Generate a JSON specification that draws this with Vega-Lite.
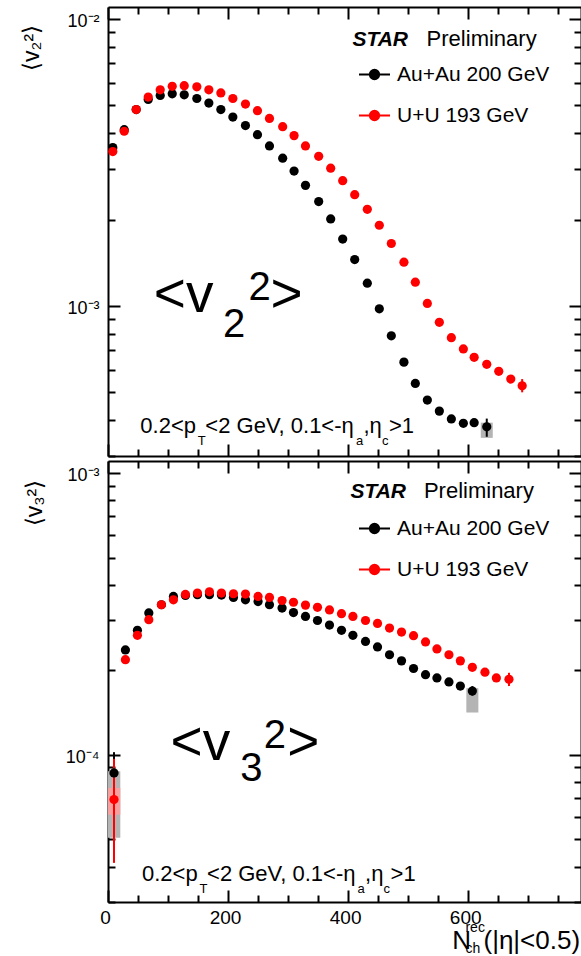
{
  "$schema": "https://vega.github.io/schema/vega-lite/v6.json",
  "background": "white",
  "padding": {"left": 20, "top": 6, "right": 0, "bottom": 0},
  "bounds": "flush",
  "spacing": 5,
  "config": {
    "font": "Liberation Sans",
    "view": {"stroke": null},
    "axis": {"domainColor": "black", "domainWidth": 2, "tickColor": "black", "tickWidth": 2, "grid": false, "labelColor": "black", "titleColor": "black", "labelFont": "Liberation Sans", "titleFont": "Liberation Sans", "titleFontWeight": "normal"},
    "legend": {"labelFont": "Liberation Sans", "labelColor": "black"}
  },
  "resolve": {"scale": {"x": "independent", "y": "independent"}, "legend": {"color": "independent"}},
  "datasets": {
    "pts": [
      {"panel":"v2","sys":"Au+Au 200 GeV","x":8,"y":0.00356},{"panel":"v2","sys":"Au+Au 200 GeV","x":27,"y":0.00411},{"panel":"v2","sys":"Au+Au 200 GeV","x":47,"y":0.00483},{"panel":"v2","sys":"Au+Au 200 GeV","x":67,"y":0.00524},{"panel":"v2","sys":"Au+Au 200 GeV","x":87,"y":0.00541},{"panel":"v2","sys":"Au+Au 200 GeV","x":107,"y":0.00548},{"panel":"v2","sys":"Au+Au 200 GeV","x":127,"y":0.00544},{"panel":"v2","sys":"Au+Au 200 GeV","x":148,"y":0.00528},{"panel":"v2","sys":"Au+Au 200 GeV","x":168,"y":0.00509},{"panel":"v2","sys":"Au+Au 200 GeV","x":188,"y":0.00483},{"panel":"v2","sys":"Au+Au 200 GeV","x":208,"y":0.00455},{"panel":"v2","sys":"Au+Au 200 GeV","x":229,"y":0.00425},{"panel":"v2","sys":"Au+Au 200 GeV","x":249,"y":0.00395},{"panel":"v2","sys":"Au+Au 200 GeV","x":269,"y":0.00361},{"panel":"v2","sys":"Au+Au 200 GeV","x":291,"y":0.00327},{"panel":"v2","sys":"Au+Au 200 GeV","x":310,"y":0.00295},{"panel":"v2","sys":"Au+Au 200 GeV","x":329,"y":0.00263},{"panel":"v2","sys":"Au+Au 200 GeV","x":351,"y":0.00231},{"panel":"v2","sys":"Au+Au 200 GeV","x":371,"y":0.00201},{"panel":"v2","sys":"Au+Au 200 GeV","x":391,"y":0.00171},{"panel":"v2","sys":"Au+Au 200 GeV","x":411,"y":0.00145},{"panel":"v2","sys":"Au+Au 200 GeV","x":432,"y":0.00120},{"panel":"v2","sys":"Au+Au 200 GeV","x":452,"y":0.000977},{"panel":"v2","sys":"Au+Au 200 GeV","x":472,"y":0.000787},{"panel":"v2","sys":"Au+Au 200 GeV","x":493,"y":0.000637},{"panel":"v2","sys":"Au+Au 200 GeV","x":512,"y":0.000537},{"panel":"v2","sys":"Au+Au 200 GeV","x":532,"y":0.000470},{"panel":"v2","sys":"Au+Au 200 GeV","x":552,"y":0.000430},{"panel":"v2","sys":"Au+Au 200 GeV","x":572,"y":0.000404},{"panel":"v2","sys":"Au+Au 200 GeV","x":592,"y":0.000390},{"panel":"v2","sys":"Au+Au 200 GeV","x":610,"y":0.000392},{"panel":"v2","sys":"Au+Au 200 GeV","x":631,"y":0.000379},
      {"panel":"v2","sys":"U+U 193 GeV","x":8,"y":0.00345},{"panel":"v2","sys":"U+U 193 GeV","x":27,"y":0.00406},{"panel":"v2","sys":"U+U 193 GeV","x":47,"y":0.00483},{"panel":"v2","sys":"U+U 193 GeV","x":67,"y":0.00534},{"panel":"v2","sys":"U+U 193 GeV","x":87,"y":0.00566},{"panel":"v2","sys":"U+U 193 GeV","x":107,"y":0.00582},{"panel":"v2","sys":"U+U 193 GeV","x":127,"y":0.00585},{"panel":"v2","sys":"U+U 193 GeV","x":148,"y":0.00580},{"panel":"v2","sys":"U+U 193 GeV","x":168,"y":0.00566},{"panel":"v2","sys":"U+U 193 GeV","x":188,"y":0.00552},{"panel":"v2","sys":"U+U 193 GeV","x":208,"y":0.00528},{"panel":"v2","sys":"U+U 193 GeV","x":229,"y":0.00505},{"panel":"v2","sys":"U+U 193 GeV","x":249,"y":0.00479},{"panel":"v2","sys":"U+U 193 GeV","x":269,"y":0.00450},{"panel":"v2","sys":"U+U 193 GeV","x":291,"y":0.00421},{"panel":"v2","sys":"U+U 193 GeV","x":310,"y":0.00392},{"panel":"v2","sys":"U+U 193 GeV","x":329,"y":0.00361},{"panel":"v2","sys":"U+U 193 GeV","x":351,"y":0.00332},{"panel":"v2","sys":"U+U 193 GeV","x":371,"y":0.00302},{"panel":"v2","sys":"U+U 193 GeV","x":391,"y":0.00273},{"panel":"v2","sys":"U+U 193 GeV","x":411,"y":0.00244},{"panel":"v2","sys":"U+U 193 GeV","x":432,"y":0.00217},{"panel":"v2","sys":"U+U 193 GeV","x":452,"y":0.00191},{"panel":"v2","sys":"U+U 193 GeV","x":472,"y":0.00165},{"panel":"v2","sys":"U+U 193 GeV","x":493,"y":0.00142},{"panel":"v2","sys":"U+U 193 GeV","x":512,"y":0.00121},{"panel":"v2","sys":"U+U 193 GeV","x":532,"y":0.00102},{"panel":"v2","sys":"U+U 193 GeV","x":552,"y":0.000877},{"panel":"v2","sys":"U+U 193 GeV","x":572,"y":0.000775},{"panel":"v2","sys":"U+U 193 GeV","x":592,"y":0.000708},{"panel":"v2","sys":"U+U 193 GeV","x":610,"y":0.000662},{"panel":"v2","sys":"U+U 193 GeV","x":631,"y":0.000626},{"panel":"v2","sys":"U+U 193 GeV","x":651,"y":0.000592},{"panel":"v2","sys":"U+U 193 GeV","x":671,"y":0.000556},{"panel":"v2","sys":"U+U 193 GeV","x":690,"y":0.000527},
      {"panel":"v3","sys":"Au+Au 200 GeV","x":10,"y":0.0000861},{"panel":"v3","sys":"Au+Au 200 GeV","x":29,"y":0.000235},{"panel":"v3","sys":"Au+Au 200 GeV","x":49,"y":0.000276},{"panel":"v3","sys":"Au+Au 200 GeV","x":68,"y":0.000318},{"panel":"v3","sys":"Au+Au 200 GeV","x":89,"y":0.000340},{"panel":"v3","sys":"Au+Au 200 GeV","x":109,"y":0.000364},{"panel":"v3","sys":"Au+Au 200 GeV","x":129,"y":0.000367},{"panel":"v3","sys":"Au+Au 200 GeV","x":149,"y":0.000369},{"panel":"v3","sys":"Au+Au 200 GeV","x":169,"y":0.000369},{"panel":"v3","sys":"Au+Au 200 GeV","x":189,"y":0.000368},{"panel":"v3","sys":"Au+Au 200 GeV","x":209,"y":0.000361},{"panel":"v3","sys":"Au+Au 200 GeV","x":229,"y":0.000354},{"panel":"v3","sys":"Au+Au 200 GeV","x":250,"y":0.000349},{"panel":"v3","sys":"Au+Au 200 GeV","x":269,"y":0.000340},{"panel":"v3","sys":"Au+Au 200 GeV","x":290,"y":0.000331},{"panel":"v3","sys":"Au+Au 200 GeV","x":309,"y":0.000319},{"panel":"v3","sys":"Au+Au 200 GeV","x":329,"y":0.000309},{"panel":"v3","sys":"Au+Au 200 GeV","x":349,"y":0.000299},{"panel":"v3","sys":"Au+Au 200 GeV","x":369,"y":0.000288},{"panel":"v3","sys":"Au+Au 200 GeV","x":389,"y":0.000276},{"panel":"v3","sys":"Au+Au 200 GeV","x":408,"y":0.000265},{"panel":"v3","sys":"Au+Au 200 GeV","x":429,"y":0.000252},{"panel":"v3","sys":"Au+Au 200 GeV","x":449,"y":0.000241},{"panel":"v3","sys":"Au+Au 200 GeV","x":469,"y":0.000226},{"panel":"v3","sys":"Au+Au 200 GeV","x":489,"y":0.000215},{"panel":"v3","sys":"Au+Au 200 GeV","x":509,"y":0.000202},{"panel":"v3","sys":"Au+Au 200 GeV","x":529,"y":0.000192},{"panel":"v3","sys":"Au+Au 200 GeV","x":548,"y":0.000187},{"panel":"v3","sys":"Au+Au 200 GeV","x":568,"y":0.000181},{"panel":"v3","sys":"Au+Au 200 GeV","x":587,"y":0.000175},{"panel":"v3","sys":"Au+Au 200 GeV","x":607,"y":0.000168},
      {"panel":"v3","sys":"U+U 193 GeV","x":10,"y":0.0000693},{"panel":"v3","sys":"U+U 193 GeV","x":29,"y":0.000217},{"panel":"v3","sys":"U+U 193 GeV","x":49,"y":0.000265},{"panel":"v3","sys":"U+U 193 GeV","x":68,"y":0.000301},{"panel":"v3","sys":"U+U 193 GeV","x":89,"y":0.000340},{"panel":"v3","sys":"U+U 193 GeV","x":109,"y":0.000354},{"panel":"v3","sys":"U+U 193 GeV","x":129,"y":0.000370},{"panel":"v3","sys":"U+U 193 GeV","x":149,"y":0.000374},{"panel":"v3","sys":"U+U 193 GeV","x":169,"y":0.000378},{"panel":"v3","sys":"U+U 193 GeV","x":189,"y":0.000374},{"panel":"v3","sys":"U+U 193 GeV","x":209,"y":0.000372},{"panel":"v3","sys":"U+U 193 GeV","x":229,"y":0.000371},{"panel":"v3","sys":"U+U 193 GeV","x":250,"y":0.000364},{"panel":"v3","sys":"U+U 193 GeV","x":269,"y":0.000361},{"panel":"v3","sys":"U+U 193 GeV","x":290,"y":0.000352},{"panel":"v3","sys":"U+U 193 GeV","x":309,"y":0.000347},{"panel":"v3","sys":"U+U 193 GeV","x":329,"y":0.000339},{"panel":"v3","sys":"U+U 193 GeV","x":349,"y":0.000333},{"panel":"v3","sys":"U+U 193 GeV","x":369,"y":0.000326},{"panel":"v3","sys":"U+U 193 GeV","x":389,"y":0.000316},{"panel":"v3","sys":"U+U 193 GeV","x":408,"y":0.000309},{"panel":"v3","sys":"U+U 193 GeV","x":429,"y":0.000299},{"panel":"v3","sys":"U+U 193 GeV","x":449,"y":0.000292},{"panel":"v3","sys":"U+U 193 GeV","x":469,"y":0.000281},{"panel":"v3","sys":"U+U 193 GeV","x":489,"y":0.000272},{"panel":"v3","sys":"U+U 193 GeV","x":509,"y":0.000264},{"panel":"v3","sys":"U+U 193 GeV","x":529,"y":0.000251},{"panel":"v3","sys":"U+U 193 GeV","x":548,"y":0.000237},{"panel":"v3","sys":"U+U 193 GeV","x":568,"y":0.000226},{"panel":"v3","sys":"U+U 193 GeV","x":587,"y":0.000215},{"panel":"v3","sys":"U+U 193 GeV","x":607,"y":0.000204},{"panel":"v3","sys":"U+U 193 GeV","x":628,"y":0.000196},{"panel":"v3","sys":"U+U 193 GeV","x":647,"y":0.000187},{"panel":"v3","sys":"U+U 193 GeV","x":668,"y":0.000185}
    ],
    "err": [
      {"panel":"v2","sys":"Au+Au 200 GeV","x":631,"lo":0.00035,"hi":0.000405},
      {"panel":"v2","sys":"U+U 193 GeV","x":690,"lo":0.0005,"hi":0.000556},
      {"panel":"v3","sys":"Au+Au 200 GeV","x":10,"lo":0.000072,"hi":0.000102},
      {"panel":"v3","sys":"U+U 193 GeV","x":10,"lo":0.0000413,"hi":0.0000966},
      {"panel":"v3","sys":"Au+Au 200 GeV","x":607,"lo":0.000162,"hi":0.000175},
      {"panel":"v3","sys":"U+U 193 GeV","x":668,"lo":0.000175,"hi":0.000195}
    ],
    "sysbox": [
      {"panel":"v2","sys":"Au+Au 200 GeV","x1":621,"x2":641,"y1":0.000347,"y2":0.000392},
      {"panel":"v3","sys":"Au+Au 200 GeV","x1":597,"x2":617,"y1":0.000141,"y2":0.000172},
      {"panel":"v3","sys":"Au+Au 200 GeV","x1":0,"x2":20.5,"y1":0.0000507,"y2":0.0000873},
      {"panel":"v3","sys":"U+U 193 GeV","x1":0,"x2":20.5,"y1":0.0000612,"y2":0.0000762}
    ],
    "txt": [
      {"panel":"v2","kind":"big","text":"<v","x":76.3,"y":0.000953},
      {"panel":"v2","kind":"big","text":">","x":270.8,"y":0.000953},
      {"panel":"v2","kind":"bigd","text":"2","x":191.7,"y":0.00078},
      {"panel":"v2","kind":"bigd","text":"2","x":234,"y":0.00105},
      {"panel":"v2","kind":"star","text":"STAR","x":407.2,"y":0.00802},
      {"panel":"v2","kind":"note","text":"Preliminary","x":530.8,"y":0.00802},
      {"panel":"v2","kind":"note","text":"0.2<p","x":53.8,"y":0.00036},
      {"panel":"v2","kind":"sub","text":"T","x":149.7,"y":0.000327},
      {"panel":"v2","kind":"note","text":"<2 GeV, 0.1<-η","x":162.2,"y":0.00036},
      {"panel":"v2","kind":"sub","text":"a","x":413,"y":0.000327},
      {"panel":"v2","kind":"note","text":",η","x":425.5,"y":0.00036},
      {"panel":"v2","kind":"sub","text":"c","x":456.3,"y":0.000327},
      {"panel":"v2","kind":"note","text":">1","x":468,"y":0.00036},
      {"panel":"v3","kind":"big","text":"<v","x":104.2,"y":0.0000959},
      {"panel":"v3","kind":"big","text":">","x":298.5,"y":0.0000959},
      {"panel":"v3","kind":"bigd","text":"3","x":220.5,"y":0.0000804},
      {"panel":"v3","kind":"bigd","text":"2","x":259.3,"y":0.0001057},
      {"panel":"v3","kind":"star","text":"STAR","x":403.8,"y":0.000811},
      {"panel":"v3","kind":"note","text":"Preliminary","x":526.3,"y":0.000811},
      {"panel":"v3","kind":"note","text":"0.2<p","x":56.6,"y":0.0000356},
      {"panel":"v3","kind":"sub","text":"T","x":152.5,"y":0.0000324},
      {"panel":"v3","kind":"note","text":"<2 GeV, 0.1<-η","x":165,"y":0.0000356},
      {"panel":"v3","kind":"sub","text":"a","x":415.8,"y":0.0000324},
      {"panel":"v3","kind":"note","text":",η","x":428.3,"y":0.0000356},
      {"panel":"v3","kind":"sub","text":"c","x":459.1,"y":0.0000324},
      {"panel":"v3","kind":"note","text":">1","x":470.8,"y":0.0000356},
      {"panel":"v3","kind":"axs","text":"rec","x":595.5,"y":0.0000234},
      {"panel":"v3","kind":"axs","text":"ch","x":595.5,"y":0.00001972}
    ]
  },
  "vconcat": [
    {
      "width": 473,
      "height": 449,
      "resolve": {"axis": {"x": "independent", "y": "independent"}},
      "layer": [
        {
          "data": {"name": "sysbox"},
          "transform": [{"filter": "datum.panel == 'v2'"}],
          "mark": {"type": "rect"},
          "encoding": {
            "x": {"field": "x1", "type": "quantitative", "scale": {"domain": [0, 788], "nice": false, "zero": false}, "axis": null},
            "x2": {"field": "x2"},
            "y": {"field": "y1", "type": "quantitative", "scale": {"type": "log", "domain": [0.0003, 0.011], "nice": false}, "axis": null},
            "y2": {"field": "y2"},
            "fill": {"field": "sys", "type": "nominal", "scale": {"domain": ["Au+Au 200 GeV", "U+U 193 GeV"], "range": ["#b4b4b4", "#f6a0a0"]}, "legend": null}
          }
        },
        {
          "data": {"name": "err"},
          "transform": [{"filter": "datum.panel == 'v2'"}],
          "mark": {"type": "rule", "strokeWidth": 2},
          "encoding": {
            "x": {"field": "x", "type": "quantitative", "scale": {"domain": [0, 788], "nice": false, "zero": false}, "axis": null},
            "y": {"field": "lo", "type": "quantitative", "scale": {"type": "log", "domain": [0.0003, 0.011], "nice": false}, "axis": null},
            "y2": {"field": "hi"},
            "color": {"field": "sys", "type": "nominal", "scale": {"domain": ["Au+Au 200 GeV", "U+U 193 GeV"], "range": ["black", "red"]}}
          }
        },
        {
          "data": {"name": "pts"},
          "transform": [{"filter": "datum.panel == 'v2'"}],
          "mark": {"type": "circle", "size": 85, "opacity": 1},
          "encoding": {
            "x": {"field": "x", "type": "quantitative", "scale": {"domain": [0, 788], "nice": false, "zero": false},
              "axis": {"orient": "bottom", "values": [0,50,100,150,200,250,300,350,400,450,500,550,600,650,700,750], "tickSize": {"condition": {"test": "datum.value % 200 == 0", "value": -12}, "value": -7}, "labels": false, "title": null}},
            "y": {"field": "y", "type": "quantitative", "scale": {"type": "log", "domain": [0.0003, 0.011], "nice": false},
              "axis": {"orient": "left", "values": [0.0003,0.0004,0.0005,0.0006,0.0007,0.0008,0.0009,0.001,0.002,0.003,0.004,0.005,0.006,0.007,0.008,0.009,0.01],
                "tickSize": {"condition": {"test": "datum.value == 0.01 || datum.value == 0.001", "value": -12}, "value": -7},
                "labelExpr": "datum.value == 0.01 ? '10⁻²' : datum.value == 0.001 ? '10⁻³' : ''",
                "labelFontSize": 18, "labelPadding": 21, "labelOffset": 3, "labelFlush": false, "labelOverlap": false, "labelBaseline": "middle",
                "title": "⟨v₂²⟩", "titleFontSize": 23, "titleAngle": 270, "titleAlign": "center", "titleBaseline": "middle", "titleX": -76.7, "titleY": 40.5}},
            "color": {"field": "sys", "type": "nominal", "scale": {"domain": ["Au+Au 200 GeV", "U+U 193 GeV"], "range": ["black", "red"]},
              "legend": {"orient": "none", "legendX": 250, "legendY": 51, "title": null, "padding": 0, "labelFontSize": 21, "labelOffset": 6, "rowPadding": 14,
                "symbolType": "M-1,0L1,0M-0.3,0A0.3,0.3,0,1,0,0.3,0A0.3,0.3,0,1,0,-0.3,0Z", "symbolSize": 961, "symbolStrokeWidth": 2,
                "encode": {"symbols": {"update": {"stroke": {"signal": "datum.value == 'U+U 193 GeV' ? 'red' : 'black'"}, "fill": {"signal": "datum.value == 'U+U 193 GeV' ? 'red' : 'black'"}, "strokeWidth": {"value": 2}, "opacity": {"value": 1}}}}}}
          }
        },
        {
          "data": {"name": "pts"},
          "transform": [{"filter": "datum.panel == 'v2'"}],
          "mark": {"type": "circle", "size": 1, "opacity": 0},
          "encoding": {
            "x": {"field": "x", "type": "quantitative", "scale": {"domain": [0, 788], "nice": false, "zero": false},
              "axis": {"orient": "top", "values": [0,50,100,150,200,250,300,350,400,450,500,550,600,650,700,750], "tickSize": {"condition": {"test": "datum.value % 200 == 0", "value": -12}, "value": -7}, "labels": false, "title": null}},
            "y": {"field": "y", "type": "quantitative", "scale": {"type": "log", "domain": [0.0003, 0.011], "nice": false},
              "axis": {"orient": "right", "values": [0.0003,0.0004,0.0005,0.0006,0.0007,0.0008,0.0009,0.001,0.002,0.003,0.004,0.005,0.006,0.007,0.008,0.009,0.01],
                "tickSize": {"condition": {"test": "datum.value == 0.01 || datum.value == 0.001", "value": -12}, "value": -7}, "labels": false, "title": null}}
          }
        },
        {
          "data": {"name": "txt"},
          "transform": [{"filter": "datum.panel == 'v2' && datum.kind == 'big'"}],
          "mark": {"type": "text", "align": "left", "baseline": "alphabetic", "fontSize": 55, "color": "black"},
          "encoding": {
            "x": {"field": "x", "type": "quantitative", "scale": {"domain": [0, 788], "nice": false, "zero": false}, "axis": null},
            "y": {"field": "y", "type": "quantitative", "scale": {"type": "log", "domain": [0.0003, 0.011], "nice": false}, "axis": null},
            "text": {"field": "text"}
          }
        },
        {
          "data": {"name": "txt"},
          "transform": [{"filter": "datum.panel == 'v2' && datum.kind == 'bigd'"}],
          "mark": {"type": "text", "align": "left", "baseline": "alphabetic", "fontSize": 40, "color": "black"},
          "encoding": {
            "x": {"field": "x", "type": "quantitative", "scale": {"domain": [0, 788], "nice": false, "zero": false}, "axis": null},
            "y": {"field": "y", "type": "quantitative", "scale": {"type": "log", "domain": [0.0003, 0.011], "nice": false}, "axis": null},
            "text": {"field": "text"}
          }
        },
        {
          "data": {"name": "txt"},
          "transform": [{"filter": "datum.panel == 'v2' && datum.kind == 'star'"}],
          "mark": {"type": "text", "align": "left", "baseline": "alphabetic", "fontSize": 21, "fontWeight": "bold", "fontStyle": "italic", "color": "black"},
          "encoding": {
            "x": {"field": "x", "type": "quantitative", "scale": {"domain": [0, 788], "nice": false, "zero": false}, "axis": null},
            "y": {"field": "y", "type": "quantitative", "scale": {"type": "log", "domain": [0.0003, 0.011], "nice": false}, "axis": null},
            "text": {"field": "text"}
          }
        },
        {
          "data": {"name": "txt"},
          "transform": [{"filter": "datum.panel == 'v2' && datum.kind == 'note'"}],
          "mark": {"type": "text", "align": "left", "baseline": "alphabetic", "fontSize": 22, "color": "black"},
          "encoding": {
            "x": {"field": "x", "type": "quantitative", "scale": {"domain": [0, 788], "nice": false, "zero": false}, "axis": null},
            "y": {"field": "y", "type": "quantitative", "scale": {"type": "log", "domain": [0.0003, 0.011], "nice": false}, "axis": null},
            "text": {"field": "text"}
          }
        },
        {
          "data": {"name": "txt"},
          "transform": [{"filter": "datum.panel == 'v2' && datum.kind == 'sub'"}],
          "mark": {"type": "text", "align": "left", "baseline": "alphabetic", "fontSize": 13, "color": "black"},
          "encoding": {
            "x": {"field": "x", "type": "quantitative", "scale": {"domain": [0, 788], "nice": false, "zero": false}, "axis": null},
            "y": {"field": "y", "type": "quantitative", "scale": {"type": "log", "domain": [0.0003, 0.011], "nice": false}, "axis": null},
            "text": {"field": "text"}
          }
        }
      ]
    },
    {
      "width": 473,
      "height": 441,
      "resolve": {"axis": {"x": "independent", "y": "independent"}},
      "layer": [
        {
          "data": {"name": "sysbox"},
          "transform": [{"filter": "datum.panel == 'v3'"}],
          "mark": {"type": "rect"},
          "encoding": {
            "x": {"field": "x1", "type": "quantitative", "scale": {"domain": [0, 788], "nice": false, "zero": false}, "axis": null},
            "x2": {"field": "x2"},
            "y": {"field": "y1", "type": "quantitative", "scale": {"type": "log", "domain": [0.00003, 0.0011], "nice": false}, "axis": null},
            "y2": {"field": "y2"},
            "fill": {"field": "sys", "type": "nominal", "scale": {"domain": ["Au+Au 200 GeV", "U+U 193 GeV"], "range": ["#b4b4b4", "#f6a0a0"]}, "legend": null}
          }
        },
        {
          "data": {"name": "err"},
          "transform": [{"filter": "datum.panel == 'v3'"}],
          "mark": {"type": "rule", "strokeWidth": 2},
          "encoding": {
            "x": {"field": "x", "type": "quantitative", "scale": {"domain": [0, 788], "nice": false, "zero": false}, "axis": null},
            "y": {"field": "lo", "type": "quantitative", "scale": {"type": "log", "domain": [0.00003, 0.0011], "nice": false}, "axis": null},
            "y2": {"field": "hi"},
            "color": {"field": "sys", "type": "nominal", "scale": {"domain": ["Au+Au 200 GeV", "U+U 193 GeV"], "range": ["black", "red"]}}
          }
        },
        {
          "data": {"name": "pts"},
          "transform": [{"filter": "datum.panel == 'v3'"}],
          "mark": {"type": "circle", "size": 85, "opacity": 1},
          "encoding": {
            "x": {"field": "x", "type": "quantitative", "scale": {"domain": [0, 788], "nice": false, "zero": false},
              "axis": {"orient": "bottom", "values": [0,50,100,150,200,250,300,350,400,450,500,550,600,650,700,750], "tickSize": {"condition": {"test": "datum.value % 200 == 0", "value": -12}, "value": -7},
                "labelExpr": "datum.value % 200 == 0 ? datum.label : ''", "labelFontSize": 19, "labelPadding": 18, "labelOffset": -3, "labelFlush": false, "labelOverlap": false,
                "title": "N   \u2009(|η|<0.5)", "titleFontSize": 26, "titleAlign": "right", "titleAnchor": "end", "titleBaseline": "alphabetic", "titleX": 471.6, "titleY": 46}},
            "y": {"field": "y", "type": "quantitative", "scale": {"type": "log", "domain": [0.00003, 0.0011], "nice": false},
              "axis": {"orient": "left", "values": [0.00003,0.00004,0.00005,0.00006,0.00007,0.00008,0.00009,0.0001,0.0002,0.0003,0.0004,0.0005,0.0006,0.0007,0.0008,0.0009,0.001],
                "tickSize": {"condition": {"test": "datum.value == 0.001 || datum.value == 0.0001", "value": -12}, "value": -7},
                "labelExpr": "datum.value == 0.001 ? '10⁻³' : datum.value == 0.0001 ? '10⁻⁴' : ''",
                "labelFontSize": 18, "labelPadding": 21, "labelOffset": 3, "labelFlush": false, "labelOverlap": false, "labelBaseline": "middle",
                "title": "⟨v₃²⟩", "titleFontSize": 23, "titleAngle": 270, "titleAlign": "center", "titleBaseline": "middle", "titleX": -74, "titleY": 41.5}},
            "color": {"field": "sys", "type": "nominal", "scale": {"domain": ["Au+Au 200 GeV", "U+U 193 GeV"], "range": ["black", "red"]},
              "legend": {"orient": "none", "legendX": 250, "legendY": 51, "title": null, "padding": 0, "labelFontSize": 21, "labelOffset": 6, "rowPadding": 14,
                "symbolType": "M-1,0L1,0M-0.3,0A0.3,0.3,0,1,0,0.3,0A0.3,0.3,0,1,0,-0.3,0Z", "symbolSize": 961, "symbolStrokeWidth": 2,
                "encode": {"symbols": {"update": {"stroke": {"signal": "datum.value == 'U+U 193 GeV' ? 'red' : 'black'"}, "fill": {"signal": "datum.value == 'U+U 193 GeV' ? 'red' : 'black'"}, "strokeWidth": {"value": 2}, "opacity": {"value": 1}}}}}}
          }
        },
        {
          "data": {"name": "pts"},
          "transform": [{"filter": "datum.panel == 'v3'"}],
          "mark": {"type": "circle", "size": 1, "opacity": 0},
          "encoding": {
            "x": {"field": "x", "type": "quantitative", "scale": {"domain": [0, 788], "nice": false, "zero": false},
              "axis": {"orient": "top", "values": [0,50,100,150,200,250,300,350,400,450,500,550,600,650,700,750], "tickSize": {"condition": {"test": "datum.value % 200 == 0", "value": -12}, "value": -7}, "labels": false, "title": null}},
            "y": {"field": "y", "type": "quantitative", "scale": {"type": "log", "domain": [0.00003, 0.0011], "nice": false},
              "axis": {"orient": "right", "values": [0.00003,0.00004,0.00005,0.00006,0.00007,0.00008,0.00009,0.0001,0.0002,0.0003,0.0004,0.0005,0.0006,0.0007,0.0008,0.0009,0.001],
                "tickSize": {"condition": {"test": "datum.value == 0.001 || datum.value == 0.0001", "value": -12}, "value": -7}, "labels": false, "title": null}}
          }
        },
        {
          "data": {"name": "txt"},
          "transform": [{"filter": "datum.panel == 'v3' && datum.kind == 'big'"}],
          "mark": {"type": "text", "align": "left", "baseline": "alphabetic", "fontSize": 55, "color": "black"},
          "encoding": {
            "x": {"field": "x", "type": "quantitative", "scale": {"domain": [0, 788], "nice": false, "zero": false}, "axis": null},
            "y": {"field": "y", "type": "quantitative", "scale": {"type": "log", "domain": [0.00003, 0.0011], "nice": false}, "axis": null},
            "text": {"field": "text"}
          }
        },
        {
          "data": {"name": "txt"},
          "transform": [{"filter": "datum.panel == 'v3' && datum.kind == 'bigd'"}],
          "mark": {"type": "text", "align": "left", "baseline": "alphabetic", "fontSize": 40, "color": "black"},
          "encoding": {
            "x": {"field": "x", "type": "quantitative", "scale": {"domain": [0, 788], "nice": false, "zero": false}, "axis": null},
            "y": {"field": "y", "type": "quantitative", "scale": {"type": "log", "domain": [0.00003, 0.0011], "nice": false}, "axis": null},
            "text": {"field": "text"}
          }
        },
        {
          "data": {"name": "txt"},
          "transform": [{"filter": "datum.panel == 'v3' && datum.kind == 'star'"}],
          "mark": {"type": "text", "align": "left", "baseline": "alphabetic", "fontSize": 21, "fontWeight": "bold", "fontStyle": "italic", "color": "black"},
          "encoding": {
            "x": {"field": "x", "type": "quantitative", "scale": {"domain": [0, 788], "nice": false, "zero": false}, "axis": null},
            "y": {"field": "y", "type": "quantitative", "scale": {"type": "log", "domain": [0.00003, 0.0011], "nice": false}, "axis": null},
            "text": {"field": "text"}
          }
        },
        {
          "data": {"name": "txt"},
          "transform": [{"filter": "datum.panel == 'v3' && datum.kind == 'note'"}],
          "mark": {"type": "text", "align": "left", "baseline": "alphabetic", "fontSize": 22, "color": "black"},
          "encoding": {
            "x": {"field": "x", "type": "quantitative", "scale": {"domain": [0, 788], "nice": false, "zero": false}, "axis": null},
            "y": {"field": "y", "type": "quantitative", "scale": {"type": "log", "domain": [0.00003, 0.0011], "nice": false}, "axis": null},
            "text": {"field": "text"}
          }
        },
        {
          "data": {"name": "txt"},
          "transform": [{"filter": "datum.panel == 'v3' && datum.kind == 'sub'"}],
          "mark": {"type": "text", "align": "left", "baseline": "alphabetic", "fontSize": 13, "color": "black"},
          "encoding": {
            "x": {"field": "x", "type": "quantitative", "scale": {"domain": [0, 788], "nice": false, "zero": false}, "axis": null},
            "y": {"field": "y", "type": "quantitative", "scale": {"type": "log", "domain": [0.00003, 0.0011], "nice": false}, "axis": null},
            "text": {"field": "text"}
          }
        },
        {
          "data": {"name": "txt"},
          "transform": [{"filter": "datum.panel == 'v3' && datum.kind == 'axs'"}],
          "mark": {"type": "text", "align": "left", "baseline": "alphabetic", "fontSize": 14, "color": "black"},
          "encoding": {
            "x": {"field": "x", "type": "quantitative", "scale": {"domain": [0, 788], "nice": false, "zero": false}, "axis": null},
            "y": {"field": "y", "type": "quantitative", "scale": {"type": "log", "domain": [0.00003, 0.0011], "nice": false}, "axis": null},
            "text": {"field": "text"}
          }
        }
      ]
    }
  ]
}
